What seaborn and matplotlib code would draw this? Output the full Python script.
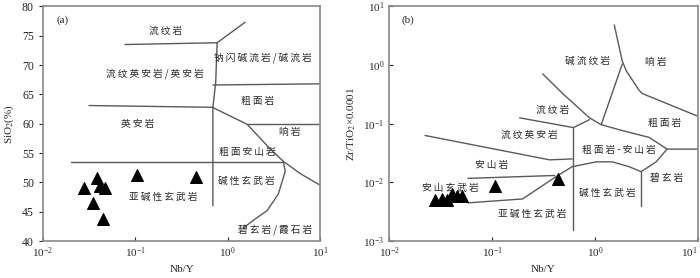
import numpy as np
import pandas as pd
import seaborn as sns
import matplotlib
matplotlib.use("Agg")
import matplotlib.pyplot as plt
from matplotlib.ticker import LogLocator, LogFormatterMathtext, NullLocator

# ---- panel (a): SiO2 vs Nb/Y ----
a_nby = [0.028, 0.0385, 0.0415, 0.047, 0.035, 0.0446, 0.104, 0.455]
a_sio2 = [49.0, 50.7, 49.4, 49.0, 46.5, 43.8, 51.2, 51.0]

a_lines = [
    ([0.0773, 0.767], [73.5, 73.8]),
    ([0.767, 1.54], [73.8, 77.3]),
    ([0.767, 0.74, 0.69, 0.69], [73.8, 67.0, 62.8, 46.0]),
    ([0.69, 10], [66.6, 66.8]),
    ([0.0315, 0.68], [63.1, 62.8]),
    ([0.68, 1.62, 2.88, 3.98, 6.08, 9.53, 10], [62.8, 59.9, 55.7, 53.6, 51.5, 49.7, 49.5]),
    ([1.62, 10], [59.9, 59.9]),
    ([0.0201, 3.98], [53.4, 53.4]),
    ([3.98, 4.19, 3.52, 2.67, 1.88, 1.47], [53.6, 51.9, 48.0, 45.2, 43.5, 42.2]),
]
a_labels = ["流纹岩", "钠闪碱流岩/碱流岩", "流纹英安岩/英安岩", "粗面岩", "英安岩", "响岩",
            "粗面安山岩", "碱性玄武岩", "亚碱性玄武岩", "碧玄岩/霞石岩"]
a_lab_x = [0.21, 2.42, 0.163, 2.1, 0.107, 4.74, 1.62, 1.58, 0.2, 3.27]
a_lab_y = [75.8, 71.3, 68.5, 63.9, 59.9, 58.6, 55.2, 50.2, 47.5, 41.8]

# ---- panel (b): Zr/TiO2 vs Nb/Y ----
b_nby = [0.0279, 0.0326, 0.0364, 0.0407, 0.0455, 0.051, 0.106, 0.44]
b_zrti = [0.0050, 0.0052, 0.0050, 0.0063, 0.0058, 0.0058, 0.00858, 0.0112]

b_lines = [
    ([1.54, 1.84, 2.02, 2.69, 2.88, 9.8], [4.82, 1.17, 0.79, 0.369, 0.327, 0.136]),
    ([1.84, 1.15], [1.04, 0.0963]),
    ([0.31, 0.483, 0.883, 1.15, 1.84, 3.36, 5.02, 10], [0.708, 0.329, 0.126, 0.0963, 0.0764, 0.0584, 0.0369, 0.0369]),
    ([5.02, 3.93, 2.81, 2.15, 1.47, 1.03, 0.60, 0.42, 0.198, 0.0582],
     [0.0369, 0.0224, 0.0152, 0.0185, 0.0224, 0.0224, 0.0185, 0.0126, 0.00522, 0.00447]),
    ([2.81, 2.81], [0.0152, 0.00398]),
    ([0.0582, 0.405], [0.0117, 0.0131]),
    ([0.185, 0.618, 0.883], [0.126, 0.0858, 0.117]),
    ([0.618, 0.618], [0.0858, 0.00153]),
    ([0.0223, 0.362, 0.6], [0.063, 0.0242, 0.0251]),
]
b_labels = ["碱流纹岩", "响岩", "流纹岩", "粗面岩", "流纹英安岩", "粗面岩-安山岩", "安山岩",
            "碧玄岩", "安山玄武岩", "碱性玄武岩", "亚碱性玄武岩"]
b_lab_x = [0.843, 3.93, 0.387, 4.7, 0.232, 1.72, 0.0993, 5.0, 0.039, 1.32, 0.248]
b_lab_y = [1.17, 1.13, 0.171, 0.104, 0.0656, 0.0355, 0.02, 0.0117, 0.00794, 0.00656, 0.00293]

sns.set_style("ticks")
plt.rcParams["font.family"] = ["Liberation Serif", "Noto Sans CJK SC"]
plt.rcParams["mathtext.fontset"] = "stix"

line_col = "#5a5a5a"
spine_col = "#888888"
cjk = ["Noto Sans CJK SC", "DejaVu Sans"]


def spaced(s):
    # the original labels are letter-spaced
    return "\u2009".join(s)


fig = plt.figure(figsize=(7, 2.78), dpi=100)
ax1 = fig.add_axes([0.0614, 0.133, 0.396, 0.844])
ax2 = fig.add_axes([0.556, 0.133, 0.441, 0.844])

# panel a
for xs, ys in a_lines:
    ax1.plot(xs, ys, color=line_col, lw=1.0)
df_a = pd.DataFrame({"Nb/Y": a_nby, "SiO2": a_sio2})
sns.scatterplot(data=df_a, x="Nb/Y", y="SiO2", ax=ax1, marker="^", s=75,
                color="black", edgecolor="black", zorder=5)
for t, x, y in zip(a_labels, a_lab_x, a_lab_y):
    ax1.text(x, y, spaced(t), fontsize=7, ha="center", va="center", color="#2a2a2a", family=cjk)
ax1.set_xscale("log")
ax1.set_xlim(0.01, 10)
ax1.set_ylim(40, 80)
ax1.set_yticks(range(40, 81, 5))
ax1.set_ylabel("SiO$_2$(%)", fontsize=8, labelpad=4)
ax1.text(0.07, 0.94, "(a)", transform=ax1.transAxes, fontsize=8, ha="center", va="center")
ax1.tick_params(axis="y", direction="out", length=3, labelsize=8.5)

# panel b
for xs, ys in b_lines:
    ax2.plot(xs, ys, color=line_col, lw=1.0)
df_b = pd.DataFrame({"Nb/Y": b_nby, "Zr/TiO2": b_zrti})
sns.scatterplot(data=df_b, x="Nb/Y", y="Zr/TiO2", ax=ax2, marker="^", s=75,
                color="black", edgecolor="black", zorder=5)
for t, x, y in zip(b_labels, b_lab_x, b_lab_y):
    ax2.text(x, y, spaced(t), fontsize=7, ha="center", va="center", color="#2a2a2a", family=cjk)
ax2.set_xscale("log")
ax2.set_yscale("log")
ax2.set_xlim(0.01, 10)
ax2.set_ylim(0.001, 10)
ax2.yaxis.set_major_locator(LogLocator(base=10, numticks=10))
ax2.yaxis.set_major_formatter(LogFormatterMathtext())
ax2.yaxis.set_minor_locator(NullLocator())
ax2.set_ylabel("Zr/TiO$_2$×0.0001", fontsize=8, labelpad=4)
ax2.text(0.06, 0.94, "(b)", transform=ax2.transAxes, fontsize=8, ha="center", va="center")
ax2.tick_params(axis="y", direction="in", length=3, labelsize=8)

for ax in (ax1, ax2):
    ax.set_xticks([0.01, 0.1, 1, 10])
    ax.xaxis.set_major_formatter(LogFormatterMathtext())
    ax.xaxis.set_minor_locator(NullLocator())
    ax.tick_params(axis="x", direction="in", length=3, labelsize=8)
    ax.set_xlabel("Nb/Y", fontsize=8, labelpad=3)
    for s in ax.spines.values():
        s.set_visible(True)
        s.set_color(spine_col)
        s.set_linewidth(1.2)

# keep the last x tick label of panel b inside the figure
fig.canvas.draw()
ax2.xaxis.get_major_ticks()[-1].label1.set_horizontalalignment("right")

fig.savefig("out.png", dpi=100)
